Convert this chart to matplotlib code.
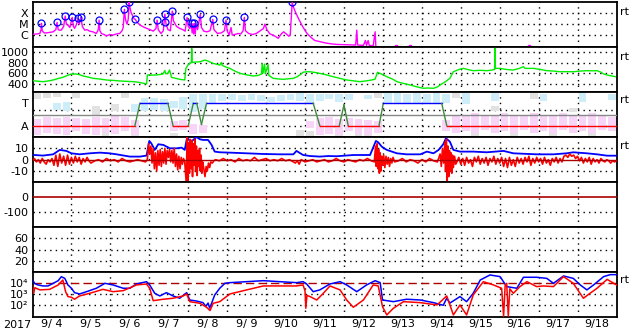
import numpy as np
import matplotlib
matplotlib.use("Agg")
import matplotlib.pyplot as plt

plt.rcParams['font.family'] = ['DejaVu Sans']
plt.rcParams['font.size'] = 8
plt.rcParams['axes.unicode_minus'] = False

# time axis: days since 2017-09-04 00:00 UT
n_days = 15
day_labels = ['9/%2d' % d for d in range(4, 19)]

# --- X-ray flux (log10 W/m2) ---
xray_t = [0.00, 0.10, 0.19, 0.22, 0.23, 0.25, 0.30, 0.36, 0.45, 0.53, 0.60, 0.63, 0.66, 0.70, 0.74,
          0.80, 0.84, 0.87, 0.91, 0.96, 1.02, 1.05, 1.08, 1.12, 1.17, 1.20, 1.24, 1.28, 1.34, 1.40,
          1.47, 1.55, 1.64, 1.69, 1.71, 1.73, 1.77, 1.84, 1.90, 1.98, 2.07, 2.15, 2.24, 2.30, 2.33,
          2.36, 2.39, 2.43, 2.46, 2.48, 2.50, 2.53, 2.57, 2.61, 2.64, 2.68, 2.76, 2.85, 2.93, 3.02,
          3.10, 3.17, 3.20, 3.23, 3.30, 3.36, 3.40, 3.43, 3.48, 3.54, 3.59, 3.62, 3.70, 3.78, 3.86,
          3.92, 3.97, 4.00, 4.04, 4.08, 4.10, 4.12, 4.14, 4.16, 4.18, 4.20, 4.24, 4.31, 4.34, 4.40,
          4.48, 4.56, 4.63, 4.66, 4.75, 4.85, 4.93, 4.97, 5.00, 5.05, 5.10, 5.13, 5.20, 5.28, 5.35,
          5.41, 5.44, 5.47, 5.55, 5.65, 5.75, 5.85, 5.93, 5.97, 6.02, 6.10, 6.18, 6.25, 6.31, 6.40,
          6.45, 6.52, 6.58, 6.62, 6.67, 6.70, 6.75, 6.83, 6.94, 7.05, 7.15, 7.25, 7.38, 7.50, 7.65,
          7.80, 7.95, 8.10, 8.20, 8.30, 8.33, 8.35, 8.50, 8.55, 8.58, 8.62, 8.65, 8.75, 8.80, 8.82]
xray_log = [-5.93, -5.90, -5.85, -5.5, -4.92, -5.6, -5.8, -5.8, -5.75, -5.7, -5.5, -4.83, -5.5, -5.55, -5.54,
            -5.2, -4.25, -5.0, -5.08, -5.3, -4.37, -5.2, -5.38, -5.1, -4.46, -5.0, -4.37, -5.2, -5.54, -5.5,
            -5.64, -5.7, -5.85, -5.5, -4.62, -5.6, -5.85, -5.95, -6.09, -5.95, -6.0, -5.9, -5.85, -5.6, -5.3,
            -3.63, -4.6, -5.0, -4.5, -2.96, -3.4, -3.9, -4.2, -4.5, -4.55, -4.8, -5.08, -5.25, -5.38, -5.5,
            -5.64, -5.4, -4.62, -5.5, -5.85, -5.6, -4.06, -5.0, -5.5, -5.6, -3.79, -4.7, -5.2, -5.38, -5.5,
            -5.64, -4.37, -5.2, -5.4, -4.92, -5.8, -4.95, -5.9, -4.92, -5.9, -5.0, -5.5, -4.1, -5.3, -5.64,
            -5.7, -5.6, -4.55, -5.5, -5.85, -5.8, -5.6, -4.62, -5.6, -6.0, -5.3, -6.0, -5.95, -5.85, -5.9,
            -5.6, -4.37, -5.6, -5.85, -5.95, -5.85, -5.6, -5.4, -4.99, -5.5, -5.9, -6.0, -6.15, -6.3, -5.85,
            -5.7, -5.9, -6.1, -6.0, -2.99, -3.39, -3.85, -4.46, -5.23, -5.85, -6.2, -6.5, -6.6, -6.71, -6.8,
            -6.86, -6.88, -6.9, -6.92, -6.92, -5.54, -6.92, -6.95, -6.5, -6.95, -6.5, -6.95, -7.0, -5.7, -7.1]
xray_blip_t = [9.33, 9.70, 12.76]
xray_blip_log = [-7.0, -7.03, -7.03]
flare_t = [0.23, 0.63, 0.84, 1.02, 1.17, 1.24, 1.71, 2.36, 2.48, 2.64, 3.20, 3.40, 3.40, 3.59,
           3.97, 4.10, 4.16, 4.31, 4.63, 4.97, 5.44, 6.67]
flare_log = [-4.92, -4.83, -4.25, -4.37, -4.46, -4.37, -4.62, -3.63, -2.96, -4.55, -4.62, -4.06, -4.83, -3.79,
             -4.37, -4.92, -4.92, -4.1, -4.55, -4.62, -4.37, -2.99]

# --- solar wind speed (km/s) ---
sw_t = [0.00, 0.15, 0.27, 0.40, 0.53, 0.65, 0.78, 0.90, 1.00, 1.13, 1.22, 1.30, 1.45, 1.56, 1.75,
        1.90, 2.10, 2.24, 2.40, 2.58, 2.70, 2.84, 2.93, 2.95, 3.05, 3.18, 3.30, 3.35, 3.40, 3.42,
        3.48, 3.52, 3.54, 3.57, 3.65, 3.78, 3.91, 3.94, 4.00, 4.04, 4.08, 4.09, 4.10, 4.20, 4.30,
        4.43, 4.50, 4.64, 4.72, 4.81, 4.85, 4.87, 4.95, 5.07, 5.20, 5.33, 5.50, 5.67, 5.80, 5.88,
        5.90, 5.92, 5.96, 5.98, 6.05, 6.07, 6.18, 6.30, 6.44, 6.56, 6.70, 6.80, 6.90, 6.95, 7.05,
        7.13, 7.25, 7.38, 7.55, 7.72, 7.90, 8.07, 8.25, 8.41, 8.55, 8.71, 8.80, 8.86, 8.95, 9.10,
        9.25, 9.36, 9.50, 9.70, 9.85, 10.04, 10.15, 10.30, 10.40, 10.47, 10.60, 10.72, 10.81, 10.95, 11.07,
        11.20, 11.32, 11.50, 11.67, 11.80, 11.87, 11.88, 11.89, 12.01, 12.18, 12.35, 12.50, 12.61, 12.65, 12.87,
        13.05, 13.21, 13.40, 13.55, 13.72, 13.89, 14.05, 14.24, 14.40, 14.50, 14.60, 14.67, 14.80, 14.97]
sw_v = [461, 450, 443, 455, 474, 500, 524, 560, 586, 586, 570, 549, 525, 505, 490,
        474, 465, 456, 450, 443, 435, 413, 400, 567, 565, 567, 580, 586, 650, 590,
        600, 660, 610, 524, 510, 487, 474, 691, 760, 784, 800, 1060, 800, 810, 814,
        846, 830, 784, 770, 753, 800, 750, 720, 691, 640, 598, 570, 549, 560, 586,
        780, 600, 770, 590, 760, 560, 505, 495, 487, 495, 505, 536, 586, 620, 628,
        628, 615, 598, 570, 536, 505, 474, 458, 443, 455, 474, 490, 617, 590, 536,
        490, 443, 415, 381, 350, 319, 325, 319, 345, 381, 440, 505, 628, 670, 691,
        665, 648, 655, 648, 660, 670, 1063, 690, 691, 670, 660, 690, 722, 690, 691,
        670, 648, 640, 628, 630, 628, 640, 648, 645, 648, 620, 586, 560, 536]

# --- IMF sector polarity (T = +1, A = -1) ---
sector_t = [0, 2.63, 2.76, 3.48, 3.61, 4.00, 4.13, 4.22, 4.34, 4.47, 7.21, 7.38, 7.88, 8.00, 8.11,
            8.90, 9.01, 10.51, 10.64, 15]
sector_v = [-1, -1, 1, 1, -1, -1, 1, 1, -0.88, 1, 1, -1, -1, 0.85, -1, -1, 1, 1, -1, -1]
nan = np.nan
blue_lo = [nan, nan, 0.4, 0.3, nan, nan, nan, nan, nan, nan, 0.2, 0.3, 0.4, 0.3, 0.6, 0.5, 0.2, 0.5, 1.0, 1.2,
           1.3, 1.2, 1.3, 1.2, 1.1, 1.2, 1.3, 1.2, 1.0, 1.2, 1.4, 1.1, 1.3, nan, 1.4, nan, 0.9, 1.0, 0.9, 1.0,
           0.9, 1.0, 1.0, nan, 0.9, nan, nan, 1.2, nan, nan, nan, nan, 1.2, nan, nan, nan, 1.1, nan, nan, 1.3]
blue_hi = [nan, nan, 1.0, 1.1, nan, nan, nan, nan, nan, nan, 0.9, 1.5, 1.5, 1.4, 1.2, 1.6, 1.8, 1.8, 1.8, 1.8,
           1.8, 1.7, 1.8, 1.7, 1.6, 1.7, 1.8, 1.9, 1.8, 1.8, 1.8, 1.8, 1.8, nan, 1.7, nan, 1.9, 1.9, 1.8, 1.9,
           1.8, 1.9, 1.8, nan, 1.9, nan, nan, 1.9, nan, nan, nan, nan, 1.8, nan, nan, nan, 1.9, nan, nan, 1.8]
pink_lo = [-1.8, -1.6, -1.7, -1.8, -1.5, -1.7, -1.8, -1.6, -1.7, -1.5, -1.8, nan, nan, nan, -1.5, -1.4, -1.7, -1.6, nan, nan,
           nan, nan, nan, nan, nan, nan, nan, nan, -1.2, -1.8, -1.7, -1.8, -1.5, -1.7, -1.8, -1.6, nan, nan, nan, nan,
           nan, nan, -1.5, -1.6, -1.5, -1.6, -1.4, -1.6, -1.5, -1.6, -1.4, -1.6, -1.5, -1.6, -1.4, -1.6, -1.5, -1.6, -1.4, -1.5]
pink_hi = [-0.4, -0.2, -0.3, -0.2, -0.3, -0.4, -0.2, -0.3, -0.1, -0.2, -0.5, nan, nan, nan, -0.6, -0.5, -0.8, -0.9, nan, nan,
           nan, nan, nan, nan, nan, nan, nan, nan, -0.6, -0.3, -0.2, -0.4, -0.3, -0.4, -0.5, -0.6, nan, nan, nan, nan,
           nan, nan, -0.5, 0.0, -0.1, 0.1, 0.0, -0.1, 0.1, 0.0, -0.1, 0.1, 0.0, -0.1, 0.1, 0.0, -0.1, 0.1, 0.0, -0.2]
gray_lo = [1.4, 1.5, 1.6, nan, 1.5, nan, 0.0, -1.9, 0.3, 1.5, -1.9, 0.3, nan, nan, -1.9, nan, nan, nan, nan, nan,
           nan, nan, nan, nan, nan, nan, nan, -1.9, -1.9, nan, nan, -1.9, nan, -1.9, -1.9, 1.5, nan, nan, nan, nan,
           nan, nan, nan, 1.5, nan, -1.9, nan, 0.3, nan, -1.9, nan, 1.4, nan, -1.9, nan, 0.2, nan, -1.9, nan, nan]
gray_hi = [1.9, 1.9, 1.9, nan, 1.9, nan, 0.8, -1.5, 0.9, 1.9, -1.5, 0.6, nan, nan, -1.6, nan, nan, nan, nan, nan,
           nan, nan, nan, nan, nan, nan, nan, -1.4, -1.5, nan, nan, -1.5, nan, -1.2, -1.3, 1.9, nan, nan, nan, nan,
           nan, nan, nan, 1.9, nan, -1.4, nan, 0.8, nan, -1.5, nan, 1.9, nan, -1.5, nan, 0.6, nan, -1.4, nan, nan]

# --- IMF Bt and Bz (nT) ---
bt_t = [0.00, 0.27, 0.53, 0.70, 0.87, 1.00, 1.21, 1.47, 1.73, 1.98, 2.16, 2.50, 2.76, 2.93, 3.00,
        3.05, 3.14, 3.23, 3.36, 3.53, 3.70, 3.83, 3.91, 3.97, 4.05, 4.13, 4.21, 4.30, 4.38, 4.51,
        4.60, 4.68, 4.81, 5.07, 5.50, 5.93, 6.35, 6.70, 6.78, 6.95, 7.13, 7.38, 7.60, 7.81, 8.24,
        8.67, 8.82, 8.88, 8.97, 9.10, 9.23, 9.36, 9.61, 9.96, 10.13, 10.30, 10.43, 10.55, 10.62, 10.72,
        10.81, 10.98, 11.32, 11.67, 12.10, 12.35, 12.95, 13.38, 13.72, 13.89, 14.24, 14.50, 14.76, 15.00]
bt_v = [4.2, 3.6, 4.7, 8.6, 7.7, 5.6, 4.7, 5.6, 6.2, 5.6, 4.7, 2.7, 2.7, 3.6, 16.5,
        14.5, 8.6, 13.6, 13.0, 10.0, 10.0, 10.6, 8.6, 19.5, 16.0, 17.4, 20.0, 18.0, 17.4, 17.4,
        13.0, 7.1, 6.5, 6.2, 5.6, 5.0, 4.7, 4.7, 7.7, 4.1, 3.2, 2.7, 3.2, 3.0, 4.1,
        4.1, 16.5, 15.3, 11.5, 8.6, 7.1, 5.6, 4.7, 4.7, 7.1, 5.6, 8.6, 13.6, 18.9, 15.9,
        8.6, 7.1, 7.1, 6.5, 7.7, 5.6, 4.7, 4.7, 5.6, 6.5, 5.6, 4.7, 3.5, 3.5]
bz_t = [0.00, 0.05, 0.10, 0.15, 0.20, 0.25, 0.30, 0.35, 0.40, 0.45, 0.50, 0.55, 0.60, 0.65, 0.70,
        0.75, 0.80, 0.85, 0.90, 0.95, 1.00, 1.05, 1.10, 1.15, 1.20, 1.25, 1.30, 1.35, 1.40, 1.45,
        1.50, 1.60, 1.70, 1.80, 1.90, 2.00, 2.10, 2.20, 2.30, 2.40, 2.50, 2.60, 2.70, 2.80, 2.90,
        2.95, 2.98, 3.01, 3.04, 3.07, 3.10, 3.13, 3.16, 3.19, 3.22, 3.25, 3.28, 3.31, 3.34, 3.37,
        3.40, 3.43, 3.46, 3.49, 3.52, 3.55, 3.58, 3.61, 3.64, 3.67, 3.70, 3.73, 3.76, 3.79, 3.82,
        3.85, 3.88, 3.91, 3.95, 3.97, 3.99, 4.01, 4.03, 4.05, 4.07, 4.09, 4.11, 4.13, 4.15, 4.17,
        4.19, 4.21, 4.23, 4.25, 4.27, 4.29, 4.31, 4.33, 4.35, 4.37, 4.40, 4.43, 4.46, 4.49, 4.52,
        4.55, 4.58, 4.62, 4.66, 4.70, 4.80, 4.90, 5.00, 5.10, 5.20, 5.30, 5.40, 5.50, 5.60, 5.70,
        5.80, 5.90, 6.00, 6.10, 6.20, 6.30, 6.40, 6.50, 6.60, 6.70, 6.75, 6.80, 6.85, 6.90, 7.00,
        7.10, 7.20, 7.30, 7.40, 7.50, 7.60, 7.70, 7.80, 7.90, 8.00, 8.10, 8.20, 8.30, 8.40, 8.50,
        8.60, 8.70, 8.78, 8.81, 8.83, 8.85, 8.87, 8.89, 8.91, 8.93, 8.95, 8.97, 8.99, 9.02, 9.05,
        9.08, 9.11, 9.14, 9.17, 9.20, 9.23, 9.26, 9.30, 9.40, 9.50, 9.60, 9.70, 9.80, 9.90, 10.00,
        10.10, 10.20, 10.30, 10.40, 10.47, 10.50, 10.53, 10.56, 10.59, 10.61, 10.63, 10.65, 10.67, 10.69, 10.71,
        10.73, 10.75, 10.77, 10.79, 10.81, 10.84, 10.87, 10.90, 10.95, 11.00, 11.05, 11.10, 11.15, 11.20, 11.25,
        11.30, 11.35, 11.40, 11.45, 11.50, 11.55, 11.60, 11.65, 11.70, 11.75, 11.80, 11.85, 11.90, 11.95, 12.00,
        12.05, 12.10, 12.15, 12.20, 12.25, 12.30, 12.35, 12.40, 12.45, 12.50, 12.55, 12.60, 12.65, 12.70, 12.75,
        12.80, 12.85, 12.90, 12.95, 13.00, 13.05, 13.10, 13.15, 13.20, 13.25, 13.30, 13.35, 13.40, 13.45, 13.50,
        13.55, 13.60, 13.65, 13.70, 13.75, 13.80, 13.85, 13.90, 13.95, 14.00, 14.05, 14.10, 14.15, 14.20, 14.25,
        14.30, 14.35, 14.40, 14.45, 14.50, 14.55, 14.60, 14.65, 14.70, 14.75, 14.80, 14.85, 14.90, 14.95, 15.00]
bz_v = [-1, 1, -2, 0, -3, 1, -2, -4, 0, -2, 1, -5, 4, -6, 5,
        -3, 3, -5, 4, -4, 2, -3, 3, -2, 2, -4, 1, -2, 2, -1,
        -3, -1, 0, -2, 1, -1, 0, -2, 1, -1, -2, -1, 0, -1, -2,
        0, 14, 5, 12, -3, 10, -8, 6, -10, 8, -5, 9, -6, 7, -3,
        10, -4, 8, 2, 9, -2, 8, -3, 10, -6, 5, -9, 3, -8, 2,
        -4, 1, -2, -21, 20, -21, 15, -12, 18, -8, 17, -15, 14, -5, 18,
        -10, 12, -14, 8, -6, 10, -10, 4, -12, -2, -8, -15, -6, -10, -3,
        -7, -2, -3, -1, 0, -1, 1, -1, 0, -2, 1, -1, 0, -1, 2,
        -1, 0, 1, -1, 0, -1, 1, -1, 0, -2, -3, -1, -4, 0, -2,
        -1, 0, -2, -1, 0, -2, -1, 1, -1, -2, 0, -1, -2, 0, -1,
        1, -1, -2, 12, -6, 14, -8, 9, -12, 6, -10, 3, -5, 4, -7,
        3, -4, 2, -6, 1, -3, 2, -2, -1, 1, -2, 0, -1, -3, 0,
        -2, 1, -1, -2, 5, -6, 10, -3, 15, -10, 18, -21, 12, -15, 8,
        -10, 6, -12, 4, -7, 3, -4, -2, 2, -4, 1, -5, 2, -3, 0,
        -6, 2, -2, 3, -4, 1, -3, 2, -5, 1, -2, 3, -4, 1, -3,
        2, -6, 1, -7, 2, -5, 0, -6, 2, -3, 1, -4, 2, -2, 3,
        -5, 1, -3, 2, -2, 1, -4, 2, -3, 0, -5, 1, -2, 2, -3,
        1, -2, 3, 4, 2, 5, 3, 4, 1, 3, -1, 2, -3, 1, -2,
        2, -4, 1, -2, 0, -3, 1, -1, -2, 0, -1, -3, -1, -2, -1]

# --- electron flux (log10) ---
eb_t = [0.00, 0.05, 0.14, 0.27, 0.40, 0.53, 0.66, 0.74, 0.83, 0.91, 1.00, 1.08, 1.21, 1.39, 1.64,
        1.86, 2.07, 2.33, 2.50, 2.67, 2.93, 3.01, 3.14, 3.27, 3.44, 3.61, 3.78, 3.96, 4.04, 4.21,
        4.38, 4.45, 4.51, 4.55, 4.60, 4.68, 4.81, 4.94, 5.07, 5.50, 5.93, 6.35, 6.78, 6.95, 7.04,
        7.21, 7.38, 7.64, 7.90, 8.07, 8.33, 8.58, 8.80, 8.93, 8.99, 9.27, 9.61, 9.96, 10.30, 10.55,
        10.64, 10.72, 10.98, 11.15, 11.32, 11.50, 11.75, 12.01, 12.18, 12.44, 12.61, 12.95, 13.21, 13.38, 13.64,
        13.89, 14.07, 14.24, 14.41, 14.67, 14.84, 15.00]
eb_log = [4.36, 4.0, 3.85, 3.76, 3.76, 4.0, 4.24, 4.6, 4.45, 3.85, 3.55, 3.15, 3.03, 3.24, 3.55,
          4.0, 3.85, 3.55, 3.55, 3.94, 4.15, 3.85, 3.09, 2.85, 3.15, 2.85, 2.64, 3.15, 2.48, 2.39,
          2.24, 1.9, 2.2, 1.75, 2.18, 2.94, 3.55, 4.0, 4.06, 4.15, 4.24, 4.15, 4.06, 4.15, 3.94,
          3.24, 3.4, 3.94, 4.15, 3.85, 3.24, 3.85, 4.24, 4.06, 2.48, 2.33, 2.55, 2.48, 2.24, 2.0,
          2.64, 2.2, 2.79, 2.33, 3.09, 4.3, 4.76, 4.61, 3.7, 3.55, 4.55, 4.55, 4.45, 4.0, 4.67,
          4.45, 3.85, 3.4, 3.85, 4.61, 4.79, 4.79]
er_t = [0.00, 0.03, 0.06, 0.19, 0.44, 0.66, 0.78, 0.85, 0.91, 1.00, 1.08, 1.21, 1.47, 1.81, 2.07,
        2.33, 2.67, 2.93, 3.01, 3.10, 3.36, 3.61, 3.87, 3.96, 4.04, 4.30, 4.47, 4.56, 4.64, 4.81,
        5.07, 5.50, 5.93, 6.78, 6.95, 7.00, 7.02, 7.05, 7.13, 7.30, 7.47, 7.64, 7.90, 8.07, 8.24,
        8.50, 8.75, 8.88, 8.99, 9.10, 9.27, 9.53, 9.96, 10.39, 10.64, 10.81, 10.98, 11.15, 11.32, 11.58,
        11.84, 12.05, 12.10, 12.14, 12.18, 12.22, 12.26, 12.35, 12.52, 12.70, 12.95, 13.12, 13.38, 13.64, 13.89,
        14.15, 14.32, 14.50, 14.76, 15.00]
er_log = [3.85, 3.09, 3.6, 3.4, 3.45, 3.85, 4.3, 3.24, 2.79, 2.73, 2.55, 2.85, 3.09, 3.45, 3.24,
          3.33, 3.85, 3.94, 3.55, 2.42, 2.55, 2.64, 2.85, 3.03, 2.33, 2.18, 1.82, 1.52, 2.18, 2.33,
          3.03, 3.4, 3.76, 3.76, 3.85, 3.3, 1.73, 2.9, 2.79, 2.48, 3.09, 3.76, 3.4, 2.48, 1.82,
          2.48, 3.85, 3.76, 1.88, 1.12, 1.73, 2.33, 2.24, 2.03, 2.85, 1.12, 2.03, 1.12, 2.94, 4.15,
          3.85, 3.55, 1.0, 3.8, 4.0, 1.0, 3.5, 3.09, 3.7, 4.15, 3.7, 3.76, 3.7, 4.61, 4.0,
          2.64, 3.09, 3.55, 4.36, 3.85]

# ---------------- figure ----------------
W, H = 633, 334
fig = plt.figure(figsize=(W / 100, H / 100), dpi=100)
x0, x1 = 32.5, 616.5
panels = [(2, 47), (47, 92), (92, 137), (137, 182.3), (182.3, 227), (227, 272), (272, 316.7)]
axes = []
for top, bot in panels:
    ax = fig.add_axes([x0 / W, 1 - bot / H, (x1 - x0) / W, (bot - top) / H])
    ax.set_xlim(0, n_days)
    ax.set_xticks([])
    ax.tick_params(axis='y', length=0, pad=3, labelsize=8)
    for s in ax.spines.values():
        s.set_linewidth(1.3)
    for d in range(1, n_days):
        ax.axvline(d, color='k', lw=1, ls=(0, (1, 3)), zorder=1)
    axes.append(ax)

dot = dict(color='k', lw=1, ls=(0, (1, 3)), zorder=1)

# 1: X-ray
ax = axes[0]
ax.set_yscale('log')
ax.set_ylim(10 ** -7.1, 10 ** -2.95)
ax.set_yticks([1e-4, 1e-5, 1e-6])
ax.set_yticklabels(['X', 'M', 'C'])
ax.minorticks_off()
for v in [1e-4, 1e-5, 1e-6]:
    ax.axhline(v, **dot)
ax.plot(xray_t, 10 ** np.array(xray_log), color='#ff00ff', lw=1, zorder=3)
ax.plot(xray_blip_t, 10 ** np.array(xray_blip_log), 's', color='#ff00ff', ms=1.5, zorder=3)
ax.plot(flare_t, 10 ** np.array(flare_log), 'o', mfc='none', mec='#0000ff', ms=5, mew=0.9, zorder=4)

# 2: solar wind speed
ax = axes[1]
ax.set_ylim(250, 1090)
ax.set_yticks([1000, 800, 600, 400])
for v in [1000, 800, 600, 400]:
    ax.axhline(v, **dot)
ax.plot(sw_t, sw_v, color='#00ee00', lw=1, zorder=3)

# 3: sector polarity
ax = axes[2]
ax.set_ylim(-2, 2)
ax.set_yticks([1, -1])
ax.set_yticklabels(['T', 'A'])
for v in [0.4, -1]:
    ax.axhline(v, **dot)
qt = np.arange(len(blue_lo)) * 0.25 + 0.125
for lo, hi, col in [(gray_lo, gray_hi, '#e2e2e2'), (pink_lo, pink_hi, '#f8d4f8'), (blue_lo, blue_hi, '#cdeef8')]:
    lo = np.array(lo)
    hi = np.array(hi)
    ax.bar(qt, hi - lo, bottom=lo, width=0.2, color=col, lw=0, zorder=2)
ax.axhline(0, color='#888888', lw=1, zorder=3)
for i in range(len(sector_t) - 1):
    a, b = sector_v[i], sector_v[i + 1]
    col = '#0000ff' if a == b == 1 else ('#ff0000' if a == b == -1 else '#3f8a3f')
    ax.plot(sector_t[i:i + 2], sector_v[i:i + 2], color=col, lw=1, zorder=4)

# 4: Bt / Bz
ax = axes[3]
ax.set_ylim(-20, 20)
ax.set_yticks([10, 0, -10])
for v in [10, -10]:
    ax.axhline(v, **dot)
ax.plot(bt_t, bt_v, color='#0000ff', lw=1.3, zorder=3)
ax.plot(bz_t, bz_v, color='#ff0000', lw=1.2, zorder=4)
ax.axhline(0, color='#aa0000', lw=1, zorder=5)

# 5: Dst
ax = axes[4]
ax.set_ylim(-200, 100)
ax.set_yticks([0, -100])
ax.axhline(-100, **dot)
ax.axhline(0, color='#aa0000', lw=1.2, zorder=3)

# 6: empty index panel
ax = axes[5]
ax.set_ylim(0, 80)
ax.set_yticks([60, 40, 20])
for v in [60, 40, 20]:
    ax.axhline(v, **dot)

# 7: electron flux
ax = axes[6]
ax.set_yscale('log')
ax.set_ylim(10 ** 0.96, 10 ** 5.03)
ax.set_yticks([1e4, 1e3, 1e2])
ax.set_yticklabels(['10\u2074', '10\u00b3', '10\u00b2'], fontsize=8)
ax.minorticks_off()
for v in [1e3, 1e2]:
    ax.axhline(v, **dot)
ax.axhline(1e4, color='#aa0000', lw=1, ls=(0, (6, 3)), zorder=2)
ax.plot(eb_t, 10 ** np.array(eb_log), color='#0000ff', lw=1.1, zorder=3)
ax.plot(er_t, 10 ** np.array(er_log), color='#ff0000', lw=1.1, zorder=4)
ax.set_xticks(np.arange(n_days) + 0.5)
ax.set_xticklabels(day_labels)
ax.tick_params(axis='x', length=0, pad=2, labelsize=8)

fig.text(3 / W, 1 - 325 / H, '2017', ha='left', va='center', fontsize=8)
for ypx in [12, 57, 100, 146, 280]:
    fig.text(620 / W, 1 - ypx / H, 'rt', ha='left', va='center', fontsize=8)

fig.savefig('out.png', dpi=100)
